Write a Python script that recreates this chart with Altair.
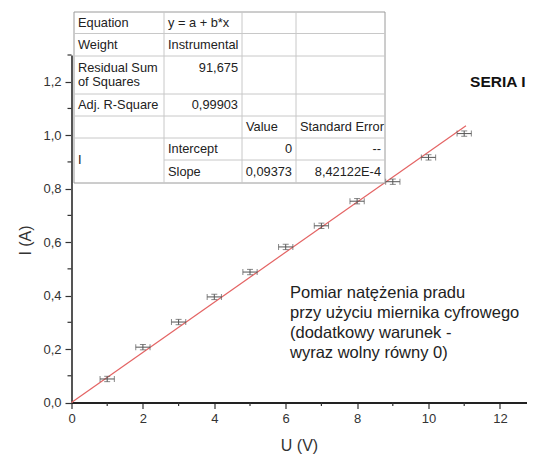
import altair as alt
import pandas as pd

# ---------------- data ----------------
U_VALUES = [1, 2, 3, 4, 5, 6, 7, 8, 9, 10, 11]
I_VALUES = [0.088, 0.207, 0.301, 0.395, 0.488, 0.582, 0.661, 0.753, 0.826, 0.917, 1.006]
U_ERROR = 0.2
I_ERROR = 0.01
FIT_INTERCEPT = 0.0
FIT_SLOPE = 0.09373
FIT_RANGE = [0.0, 11.05]

X_TICKS = [0, 2, 4, 6, 8, 10, 12]
X_MINOR = [1, 3, 5, 7, 9, 11]
Y_TICKS = [0.0, 0.2, 0.4, 0.6, 0.8, 1.0, 1.2]
Y_MINOR = [0.1, 0.3, 0.5, 0.7, 0.9, 1.1, 1.3]

TABLE_CELLS = [
    ["Equation", "y = a + b*x", "", ""],
    ["Weight", "Instrumental", "", ""],
    ["Residual Sum|of Squares", "91,675", "", ""],
    ["Adj. R-Square", "0,99903", "", ""],
    ["", "", "Value", "Standard Error"],
    ["I", "Intercept", "0", "--"],
    ["", "Slope", "0,09373", "8,42122E-4"],
]
NOTE_LINES = [
    "Pomiar natężenia pradu",
    "przy użyciu miernika cyfrowego",
    "(dodatkowy warunek -",
    "wyraz wolny równy 0)",
]
SERIES_LABEL = "SERIA I"

# ---------------- layout ----------------
W, H = 455, 347.5
X_DOMAIN = [0, 12.745]
Y_DOMAIN = [0, 1.3]
FONT = "Liberation Sans"
TBL_X = [2.5, 92.5, 170.5, 224.5, 313.5]
TBL_Y = [-43, -21.5, 1, 39, 61, 83, 105, 128]
CELL_PAD = 4
TBL_FS = 12.8
TBL_LH = 13.5


def px2x(px):
    return X_DOMAIN[0] + px / W * (X_DOMAIN[1] - X_DOMAIN[0])


def px2y(py):
    return Y_DOMAIN[1] - py / H * (Y_DOMAIN[1] - Y_DOMAIN[0])


x_scale = alt.Scale(domain=X_DOMAIN, nice=False, zero=False)
y_scale = alt.Scale(domain=Y_DOMAIN, nice=False, zero=False)

x_axis = alt.Axis(
    values=X_TICKS, format="d", title="U (V)", grid=False,
    tickSize=6, tickColor="#333", tickWidth=1.2,
    domainColor="#222", domainWidth=1.8,
    labelFontSize=13, labelColor="#333", labelPadding=4, labelFlush=False,
    titleFontSize=16, titleFontWeight="normal", titleColor="#333",
    titleY=42.5, titleBaseline="middle",
)
y_axis = alt.Axis(
    values=Y_TICKS, labelExpr="replace(format(datum.value, '.1f'), '.', ',')",
    title="I (A)", grid=False,
    tickSize=6.5, tickColor="#333", tickWidth=1.2,
    domainColor="#555", domainWidth=2,
    labelFontSize=13, labelColor="#333", labelPadding=4, labelFlush=False,
    titleFontSize=16, titleFontWeight="normal", titleColor="#333",
    titleX=-46.5, titleY=185, titleAlign="center", titleBaseline="middle",
)


def X(field):
    return alt.X(field, scale=x_scale, axis=x_axis)


def Y(field):
    return alt.Y(field, scale=y_scale, axis=y_axis)


# fit line
fit_df = pd.DataFrame({"U": FIT_RANGE,
                       "I": [FIT_INTERCEPT + FIT_SLOPE * u for u in FIT_RANGE]})
fit = alt.Chart(fit_df).mark_line(color="#e46464", strokeWidth=1.2).encode(
    x=X("U:Q"), y=Y("I:Q"),
)

pts = pd.DataFrame({"U": U_VALUES, "I": I_VALUES})
pts["U_lo"] = pts["U"] - U_ERROR
pts["U_hi"] = pts["U"] + U_ERROR
pts["I_lo"] = pts["I"] - I_ERROR
pts["I_hi"] = pts["I"] + I_ERROR

EB = "#555"
hbar = alt.Chart(pts).mark_rule(color=EB, strokeWidth=1).encode(
    x=X("U_lo:Q"), x2="U_hi:Q", y=Y("I:Q"),
)
vbar = alt.Chart(pts).mark_rule(color=EB, strokeWidth=1).encode(
    x=X("U:Q"), y=Y("I_lo:Q"), y2="I_hi:Q",
)
xcaps = pd.concat([
    pd.DataFrame({"U": pts["U_lo"], "I": pts["I"]}),
    pd.DataFrame({"U": pts["U_hi"], "I": pts["I"]}),
])
ycaps = pd.concat([
    pd.DataFrame({"U": pts["U"], "I": pts["I_lo"]}),
    pd.DataFrame({"U": pts["U"], "I": pts["I_hi"]}),
])
xcap = alt.Chart(xcaps).mark_tick(orient="vertical", size=6, thickness=1, color=EB).encode(
    x=X("U:Q"), y=Y("I:Q"),
)
ycap = alt.Chart(ycaps).mark_tick(orient="horizontal", size=6, thickness=1, color=EB).encode(
    x=X("U:Q"), y=Y("I:Q"),
)

# minor ticks
xminor = alt.Chart(pd.DataFrame({"v": X_MINOR})).mark_rule(color="#333", strokeWidth=1.2).encode(
    x=X("v:Q"), y=alt.value(H), y2=alt.value(H + 3.5),
)
yminor = alt.Chart(pd.DataFrame({"v": Y_MINOR})).mark_rule(color="#333", strokeWidth=1.2).encode(
    y=Y("v:Q"), x=alt.value(-4), x2=alt.value(0),
)

# ---------------- table ----------------
one = pd.DataFrame({"a": [0]})
tbl_bg = alt.Chart(one).mark_rect(fill="white", stroke="#9a9a9a", strokeWidth=1).encode(
    x=alt.value(TBL_X[0]), x2=alt.value(TBL_X[-1]),
    y=alt.value(TBL_Y[0]), y2=alt.value(TBL_Y[-1]),
)
segs = []
for r in range(1, len(TBL_Y) - 1):
    x_start = TBL_X[1] if r == 6 else TBL_X[0]
    segs.append({"x1": px2x(x_start), "x2": px2x(TBL_X[-1]),
                 "y1": px2y(TBL_Y[r]), "y2": px2y(TBL_Y[r])})
for c in range(1, len(TBL_X) - 1):
    segs.append({"x1": px2x(TBL_X[c]), "x2": px2x(TBL_X[c]),
                 "y1": px2y(TBL_Y[0]), "y2": px2y(TBL_Y[-1])})
seg_df = pd.DataFrame(segs)
tbl_lines = alt.Chart(seg_df).mark_rule(color="#c8c8c8", strokeWidth=1).encode(
    x=X("x1:Q"), x2="x2:Q", y=Y("y1:Q"), y2="y2:Q",
)

cells = []
for r, row in enumerate(TABLE_CELLS):
    center = (TBL_Y[r] + TBL_Y[r + 1]) / 2
    multi = any("|" in t for t in row)
    for c, t in enumerate(row):
        if not t:
            continue
        y = center - TBL_LH / 2 if multi else center
        if t == "I" and c == 0:
            y = TBL_Y[6]
        right = t[0] in "0123456789-"
        x = TBL_X[c + 1] - CELL_PAD if right else TBL_X[c] + CELL_PAD
        cells.append({"tx": px2x(x), "ty": px2y(y), "t": t, "right": right})
cell_df = pd.DataFrame(cells)


def text_layer(df, align):
    return alt.Chart(df).mark_text(
        align=align, baseline="middle", fontSize=TBL_FS, font=FONT,
        color="#222", lineBreak="|", lineHeight=TBL_LH,
    ).encode(x=X("tx:Q"), y=Y("ty:Q"), text="t:N")


tbl_left = text_layer(cell_df[~cell_df["right"]], "left")
tbl_right = text_layer(cell_df[cell_df["right"]], "right")

# note
NOTE_X, NOTE_Y0, NOTE_LH = 218.5, 238.3, 20
note_df = pd.DataFrame({
    "t": NOTE_LINES,
    "tx": [px2x(NOTE_X)] * len(NOTE_LINES),
    "ty": [px2y(NOTE_Y0 + i * NOTE_LH) for i in range(len(NOTE_LINES))],
})
note = alt.Chart(note_df).mark_text(
    align="left", baseline="middle", fontSize=16.5, font=FONT, color="#222",
).encode(x=X("tx:Q"), y=Y("ty:Q"), text="t:N")

series = alt.Chart(pd.DataFrame({"t": [SERIES_LABEL]})).mark_text(
    align="right", baseline="middle", fontSize=15.5, fontWeight="bold", font=FONT, color="#111",
).encode(x=alt.value(454), y=alt.value(26.7), text="t:N")

chart = alt.layer(
    fit, hbar, vbar, xcap, ycap, xminor, yminor,
    tbl_bg, tbl_lines, tbl_left, tbl_right, note, series,
).properties(
    width=W, height=H,
    autosize=alt.AutoSizeParams(type="none"),
    padding={"left": 63.5, "top": 47, "right": 0.5, "bottom": 52},
).configure(font=FONT).configure_view(stroke=None)

chart.save("out.html", embed_options={"renderer": "svg", "actions": False})
